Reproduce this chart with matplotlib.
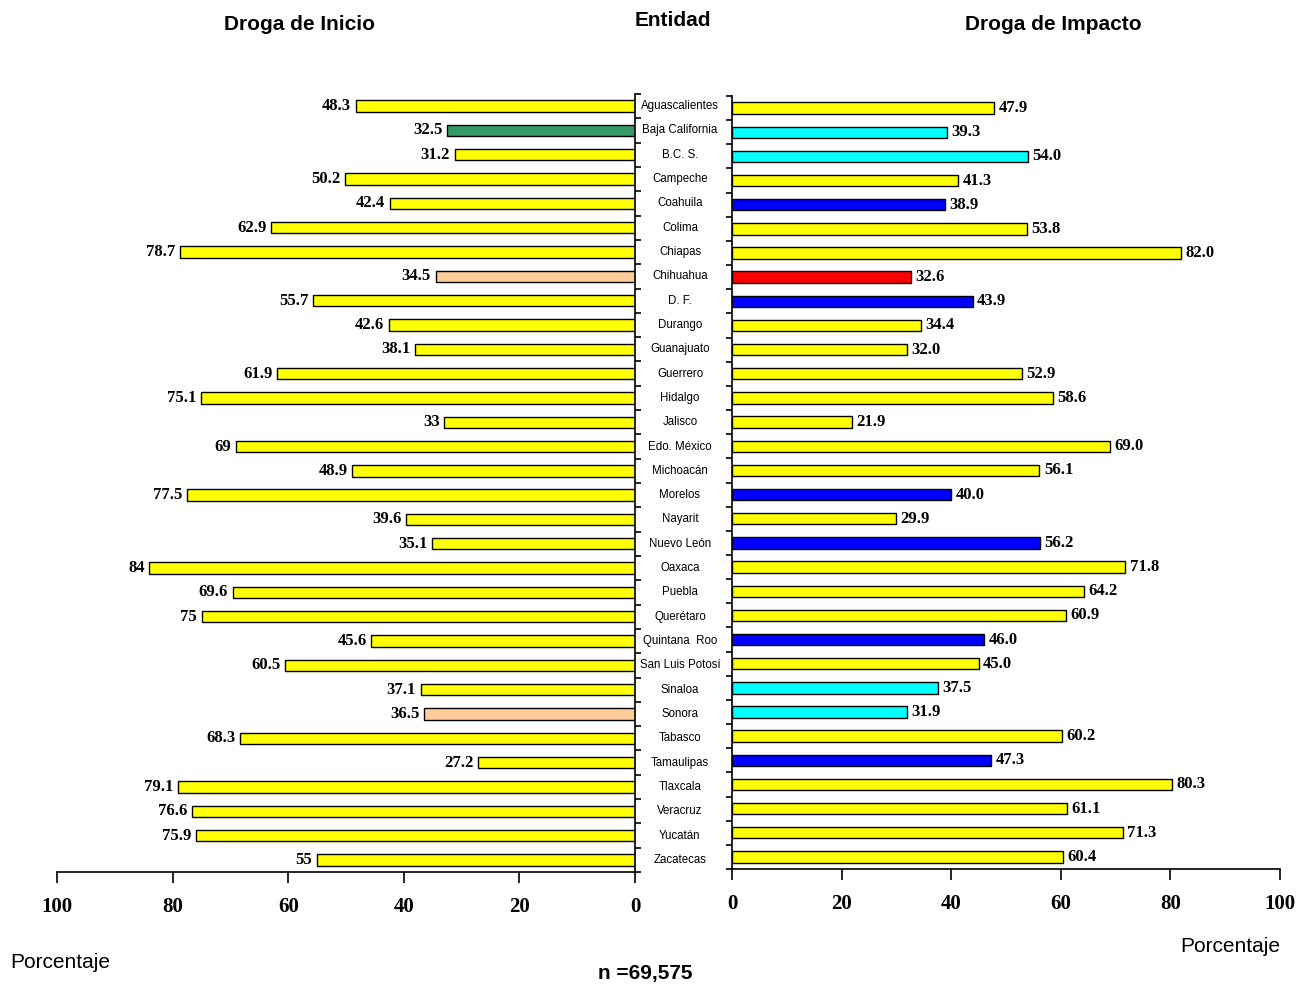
import matplotlib.pyplot as plt
import matplotlib.transforms as mtransforms
import numpy as np

entidades = [
    "Aguascalientes", "Baja California", "B.C. S.", "Campeche", "Coahuila",
    "Colima", "Chiapas", "Chihuahua", "D. F.", "Durango", "Guanajuato",
    "Guerrero", "Hidalgo", "Jalisco", "Edo. México", "Michoacán", "Morelos",
    "Nayarit", "Nuevo León", "Oaxaca", "Puebla", "Querétaro", "Quintana  Roo",
    "San Luis Potosí", "Sinaloa", "Sonora", "Tabasco", "Tamaulipas",
    "Tlaxcala", "Veracruz", "Yucatán", "Zacatecas",
]

inicio = [48.3, 32.5, 31.2, 50.2, 42.4, 62.9, 78.7, 34.5, 55.7, 42.6, 38.1,
          61.9, 75.1, 33, 69, 48.9, 77.5, 39.6, 35.1, 84, 69.6, 75, 45.6,
          60.5, 37.1, 36.5, 68.3, 27.2, 79.1, 76.6, 75.9, 55]

impacto = [47.9, 39.3, 54.0, 41.3, 38.9, 53.8, 82.0, 32.6, 43.9, 34.4, 32.0,
           52.9, 58.6, 21.9, 69.0, 56.1, 40.0, 29.9, 56.2, 71.8, 64.2, 60.9,
           46.0, 45.0, 37.5, 31.9, 60.2, 47.3, 80.3, 61.1, 71.3, 60.4]

# highlighted states
inicio_colors = {"Baja California": "#339966", "Chihuahua": "#ffcc99",
                 "Sonora": "#ffcc99"}
impacto_colors = {"Baja California": "#00ffff", "B.C. S.": "#00ffff",
                  "Sinaloa": "#00ffff", "Sonora": "#00ffff",
                  "Coahuila": "#0000ff", "D. F.": "#0000ff",
                  "Morelos": "#0000ff", "Nuevo León": "#0000ff",
                  "Quintana  Roo": "#0000ff", "Tamaulipas": "#0000ff",
                  "Chihuahua": "#ff0000"}

W, H = 1305, 986
fig = plt.figure(figsize=(W / 100, H / 100), dpi=100)

ax_l = fig.add_axes([57 / W, (H - 872) / H, (635 - 57) / W, (872 - 94) / H])
ax_r = fig.add_axes([732 / W, (H - 869) / H, (1280 - 732) / W, (869 - 96) / H])

n = len(entidades)
y = np.arange(n)
bar_h = 0.47

cl = [inicio_colors.get(e, "#ffff00") for e in entidades]
cr = [impacto_colors.get(e, "#ffff00") for e in entidades]

ax_l.barh(y, inicio, height=bar_h, color=cl, edgecolor="black", linewidth=1)
ax_r.barh(y, impacto, height=bar_h, color=cr, edgecolor="black", linewidth=1)

val_font = dict(family="Liberation Serif", fontweight="bold", fontsize=12)
for yi, v in zip(y, inicio):
    ax_l.text(v + 0.8, yi, "%g" % v, ha="right", va="center", **val_font)
for yi, v in zip(y, impacto):
    ax_r.text(v + 0.8, yi, "%.1f" % v, ha="left", va="center", **val_font)

for ax in (ax_l, ax_r):
    ax.set_ylim(n - 0.5, -0.5)
    ax.set_xlim(0, 100)
    ax.set_xticks([0, 20, 40, 60, 80, 100])
    ax.spines["top"].set_visible(False)
    ax.tick_params(axis="x", direction="out", length=8, width=1.2, pad=10)
    for lbl in ax.get_xticklabels():
        lbl.set_family("Liberation Serif")
        lbl.set_fontweight("bold")
        lbl.set_fontsize(15)
    ax.set_yticks(np.arange(n + 1) - 0.5)
    ax.set_yticklabels([])
    for s in ax.spines.values():
        s.set_linewidth(1.2)

ax_l.invert_xaxis()
ax_l.spines["left"].set_visible(False)
ax_l.yaxis.tick_right()
ax_l.tick_params(axis="y", direction="out", length=4, width=1.2)

ax_r.spines["right"].set_visible(False)
ax_r.tick_params(axis="y", direction="out", length=4, width=1.2)

# state names between the two panels
trans = mtransforms.blended_transform_factory(fig.transFigure, ax_l.transData)
for yi, e in zip(y, entidades):
    ax_l.text(680 / W, yi, e, transform=trans, ha="center", va="center",
              family="Liberation Sans", fontsize=8.3, clip_on=False)

title_font = dict(family="Liberation Sans", fontweight="bold", fontsize=15)
fig.text(299 / W, 1 - 25 / H, "Droga de Inicio", ha="center", va="center", **title_font)
fig.text(673 / W, 1 - 20 / H, "Entidad", ha="center", va="center", **title_font)
fig.text(1053 / W, 1 - 25 / H, "Droga de Impacto", ha="center", va="center", **title_font)

fig.text(10 / W, 1 - 962 / H, "Porcentaje", ha="left", va="center",
         family="Liberation Sans", fontsize=15)
fig.text(1280 / W, 1 - 946 / H, "Porcentaje", ha="right", va="center",
         family="Liberation Sans", fontsize=15)
fig.text(645 / W, 1 - 974 / H, "n =69,575", ha="center", va="center", **title_font)

fig.savefig("out.png", dpi=100)
